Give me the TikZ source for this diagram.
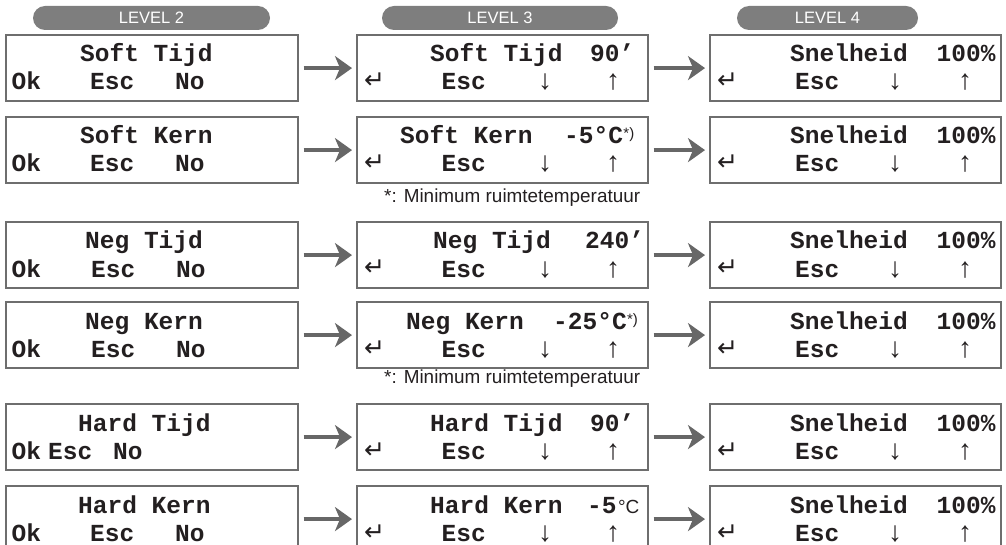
\documentclass[tikz,border=0pt]{standalone}
\usepackage{fontspec}
\setmainfont{Liberation Sans}
\newfontfamily\lcd{Liberation Mono}
\newfontfamily\symf{DejaVu Sans}
\newfontfamily\arrf{Liberation Sans}
\usetikzlibrary{arrows.meta}
\definecolor{frame}{HTML}{6E6E6E}
\definecolor{pillc}{HTML}{7E7E7E}
\definecolor{ink}{HTML}{231F20}
\definecolor{conc}{HTML}{676767}
\tikzset{
  lcdbox/.style={draw=frame, line width=2.2pt, minimum height=66pt, inner sep=0pt, anchor=north west},
  lcdt/.style={font=\lcd\bfseries\fontsize{24.5}{24.5}\selectfont, text=ink, inner sep=0pt, anchor=base west},
  retsym/.style={font=\symf\fontsize{25}{25}\selectfont, text=ink, inner sep=0pt, anchor=base west},
  arrsym/.style={font=\arrf\fontsize{28}{28}\selectfont, text=ink, inner sep=0pt, anchor=base},
  supt/.style={font=\fontsize{15}{15}\selectfont, text=ink, inner sep=0pt, anchor=base west, yshift=5pt},
  degc/.style={font=\fontsize{19}{19}\selectfont, text=ink, inner sep=0pt, anchor=base west},
  pillst/.style={fill=pillc, rounded corners=12pt, minimum height=24pt, inner sep=0pt, text=white, font=\fontsize{16.5}{16.5}\selectfont},
  foot/.style={font=\fontsize{18.9}{18.9}\selectfont, text=ink, inner sep=0pt, anchor=base west},
  conn/.style={draw=conc, line width=4pt, -{Stealth[length=17pt,width=24pt,inset=5pt]}, shorten <=4.5pt, shorten >=4pt}
}
% column 1 box: name, top, title, title x
\newcommand\lvltwo[4]{%
  \node[lcdbox, minimum width=292pt] (#1) at (5,#2) {};
  \node[lcdt] (#1-t) at (#4,#2+28) {#3};}
\newcommand\okline[5]{%
  \node[lcdt] (#1-ok) at (#3,#2+56) {Ok};
  \node[lcdt] (#1-esc) at (#4,#2+56) {Esc};
  \node[lcdt] (#1-no) at (#5,#2+56) {No};}
% column 2/3 box: name, left, top, title, title x, value, value x
\newcommand\lvlbox[7]{%
  \node[lcdbox, minimum width=291pt] (#1) at (#2,#3) {};
  \node[lcdt] (#1-t) at (#5,#3+28) {#4};
  \node[lcdt] (#1-v) at (#7,#3+28) {#6};}
% nav line: name, top, ret x, esc x, down x, up x
\newcommand\navline[6]{%
  \node[retsym] (#1-ret) at (#3,#2+55) {↵};
  \node[lcdt] (#1-esc) at (#4,#2+56) {Esc};
  \node[arrsym] (#1-dn) at (#5,#2+56) {↓};
  \node[arrsym] (#1-up) at (#6,#2+56) {↑};}
\begin{document}
\begin{tikzpicture}[x=1pt,y=-1pt]
\useasboundingbox (0,0) rectangle (1006,545);
\clip (0,0) rectangle (1006,545);
% headers
\node[pillst, minimum width=237pt] (L2) at (151.5,18) {LEVEL 2};
\node[pillst, minimum width=236pt] (L3) at (500,18) {LEVEL 3};
\node[pillst, minimum width=181pt] (L4) at (827.5,18) {LEVEL 4};
% row tops: 34 116 221 301 403 485
% column 1
\lvltwo{a1}{34}{Soft Tijd}{80}   \okline{a1}{34}{11.5}{90}{175}
\lvltwo{a2}{116}{Soft Kern}{80}  \okline{a2}{116}{11.5}{90}{175}
\lvltwo{a3}{221}{Neg Tijd}{85}   \okline{a3}{221}{11.5}{91}{176}
\lvltwo{a4}{301}{Neg Kern}{85}   \okline{a4}{301}{11.5}{91}{176}
\lvltwo{a5}{403}{Hard Tijd}{78}  \okline{a5}{403}{11.5}{48}{113}
\lvltwo{a6}{485}{Hard Kern}{78}  \okline{a6}{485}{11.5}{90}{175}
% column 2
\lvlbox{b1}{356}{34}{Soft Tijd}{430}{90’}{590}      \navline{b1}{34}{364}{441.5}{545}{613}
\lvlbox{b2}{356}{116}{Soft Kern}{400}{-5°C}{564}     \navline{b2}{116}{364}{441.5}{545}{613}
\node[supt] (b2-s) at (b2-v.base east) {*)};
\lvlbox{b3}{356}{221}{Neg Tijd}{433}{240’}{585}     \navline{b3}{221}{364}{441.5}{545}{613}
\lvlbox{b4}{356}{301}{Neg Kern}{406}{-25°C}{553}     \navline{b4}{301}{364}{441.5}{545}{613}
\node[supt] (b4-s) at (b4-v.base east) {*)};
\lvlbox{b5}{356}{403}{Hard Tijd}{430}{90’}{590}     \navline{b5}{403}{364}{441.5}{545}{613}
\lvlbox{b6}{356}{485}{Hard Kern}{430}{-5}{587}       \navline{b6}{485}{364}{441.5}{545}{613}
\node[degc] (b6-c) at ([xshift=1pt]b6-v.base east) {°C};
% column 3
\lvlbox{c1}{709}{34}{Snelheid}{790}{100\%}{936.5}   \navline{c1}{34}{717}{795}{895}{965}
\lvlbox{c2}{709}{116}{Snelheid}{790}{100\%}{936.5}  \navline{c2}{116}{717}{795}{895}{965}
\lvlbox{c3}{709}{221}{Snelheid}{790}{100\%}{936.5}  \navline{c3}{221}{717}{795}{895}{965}
\lvlbox{c4}{709}{301}{Snelheid}{790}{100\%}{936.5}  \navline{c4}{301}{717}{795}{895}{965}
\lvlbox{c5}{709}{403}{Snelheid}{790}{100\%}{936.5}  \navline{c5}{403}{717}{795}{895}{965}
\lvlbox{c6}{709}{485}{Snelheid}{790}{100\%}{936.5}  \navline{c6}{485}{717}{795}{895}{965}
% footnotes
\node[foot] (f1) at (384,203) {*: Minimum ruimtetemperatuur};
\node[foot] (f2) at (384,383) {*: Minimum ruimtetemperatuur};
% connectors
\foreach \r in {1,...,6} {
  \draw[conn] (a\r) -- (b\r);
  \draw[conn] (b\r) -- (c\r);
}
\end{tikzpicture}
\end{document}
